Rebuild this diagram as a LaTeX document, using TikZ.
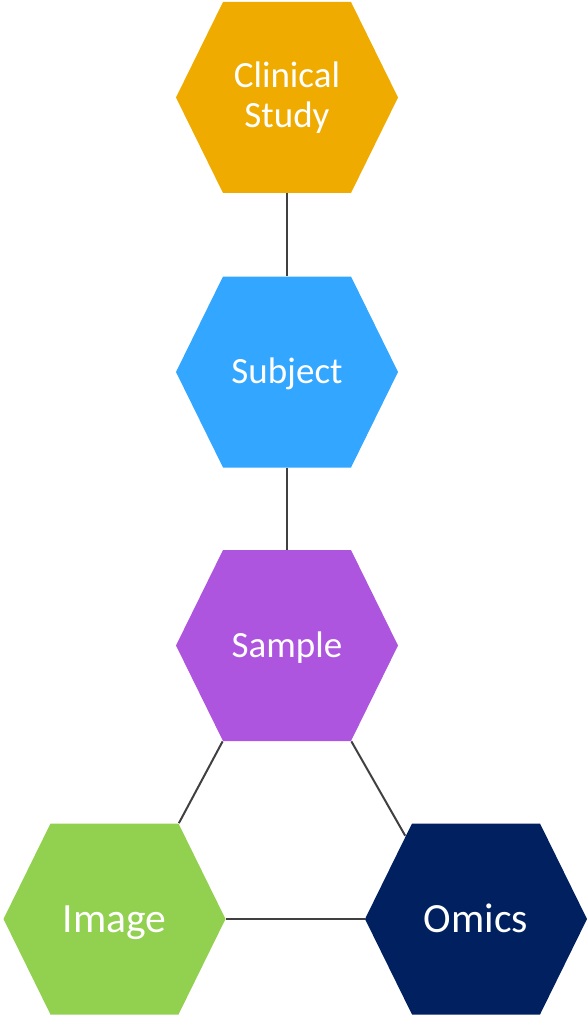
\documentclass[tikz,border=0pt]{standalone}
\usepackage{fontspec}
\setmainfont{Carlito}
\usetikzlibrary{calc}

\definecolor{studyorange}{HTML}{F0AB00}
\definecolor{subjectblue}{HTML}{33A6FF}
\definecolor{samplepurple}{HTML}{AD55DF}
\definecolor{imagegreen}{HTML}{92D050}
\definecolor{omicsnavy}{HTML}{002060}
\definecolor{linkgray}{HTML}{404040}

\tikzset{
  hexa/.style={minimum width=111pt, minimum height=95.5pt, inner sep=0pt,
    text=white, font=\fontsize{18.5}{20}\selectfont,
    text height=11.9pt, text depth=0pt,
    path picture={\fill[#1]
      ([xshift=23.5pt]path picture bounding box.north west) --
      ([xshift=-23.5pt]path picture bounding box.north east) --
      (path picture bounding box.east) --
      ([xshift=-23.5pt]path picture bounding box.south east) --
      ([xshift=23.5pt]path picture bounding box.south west) --
      (path picture bounding box.west) -- cycle;}},
  twolines/.style={align=center, text height=, text depth=},
  bigtext/.style={font=\fontsize{20.8}{24}\selectfont, text height=13.4pt},
  link/.style={draw=linkgray, line width=1pt}
}

\begin{document}
\begin{tikzpicture}[x=0.5pt,y=-0.5pt]
\useasboundingbox (0,0) rectangle (587,1016);
\node[hexa=studyorange, twolines] (clinical) at (287,97.5) {Clinical\\Study};
\node[hexa=subjectblue] (subject) at (287,372) {Subject};
\node[hexa=samplepurple] (sample) at (287,645.5) {Sample};
\node[hexa=imagegreen, bigtext] (image) at (114.5,919) {Image};
\node[hexa=omicsnavy, bigtext] (omics) at (476,919) {Omics};

% links between the hexagons
\draw[link] (clinical.south) -- (subject.north);
\draw[link] (subject.south) -- (sample.north);
\draw[link] ([xshift=23.5pt]sample.south west) -- ([xshift=-23.5pt]image.north east);
\draw[link] ([xshift=-23.5pt]sample.south east) -- ([xshift=20.3pt,yshift=-6.3pt]omics.north west);
\draw[link] (image.east) -- (omics.west);
\end{tikzpicture}
\end{document}
